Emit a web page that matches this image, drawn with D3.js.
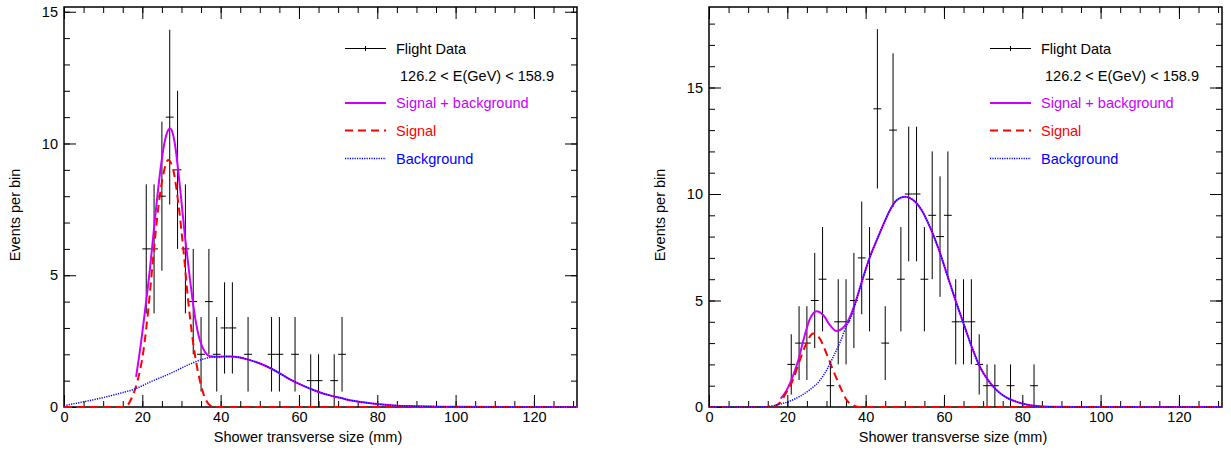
<!DOCTYPE html>
<html lang="en">
<head>
  <meta charset="UTF-8">
  <title>Shower transverse size</title>
  <style>
    body { margin: 0; background: #ffffff; }
    svg { display: block; }
    text { font-family: "Liberation Sans", Arial, Helvetica, sans-serif; font-size: 14.5px; fill: #000; }
  </style>
</head>
<body>
  <svg id="chart" width="1231" height="451"></svg>
  <script src="https://d3js.org/d3.v7.min.js"></script>
  <script>

    // ---- left plot: bin centres (mm) and entries per bin
    var leftBins   = [21, 23, 25, 27, 29, 31, 33, 35, 37, 39, 41, 43, 47, 53, 55, 59, 63, 65, 69, 71];
    var leftCounts = [ 6,  6,  8, 11,  9,  6,  4,  2,  4,  2,  3,  3,  2,  2,  2,  2,  1,  1,  1,  2];

    // fit curves, [mm, events]
    var leftSum = [[18.4,1.14],[19.4,2.15],[20.7,3.67],[22.0,5.32],[23.2,7.09],[24.5,8.86],[25.8,10.13],
      [26.4,10.45],[27.07,10.57],[27.7,10.42],[28.3,10.0],[29.6,8.36],[30.9,6.46],[32.2,4.81],[33.45,3.42],
      [34.7,2.53],[36.0,2.09],[37.3,1.93],[39.8,1.91],[42.4,1.92],[44.9,1.88],[47.5,1.78],[50.05,1.65],
      [52.6,1.48],[55.2,1.27],[57.7,1.05],[60.3,0.86],[62.8,0.70],[65.4,0.55],[67.9,0.44],[70.5,0.35],
      [73.0,0.26],[76.4,0.18],[80.7,0.10],[85.0,0.05],[90.0,0.03],[100,0.005],[131,0]];
    var leftSignal = [[0,0],[15.6,0],[16.5,0.12],[17.3,0.35],[18.6,0.89],[20.3,2.15],[21.5,3.67],[22.8,5.7],
      [24.1,7.6],[25.4,8.86],[26.6,9.37],[27.9,8.99],[29.2,7.73],[30.5,5.95],[31.7,4.05],[33.0,2.41],
      [34.3,1.27],[35.6,0.51],[37.3,0.06],[38.6,0],[131,0]];
    var leftBkg = [[0,0.05],[4.1,0.17],[9.2,0.33],[14.3,0.52],[18.4,0.7],[22.0,0.95],[27.1,1.27],[32.2,1.63],
      [34.7,1.78],[37.3,1.88],[39.8,1.91],[42.4,1.92],[44.9,1.88],[47.5,1.78],[50.05,1.65],[52.6,1.48],
      [55.2,1.27],[57.7,1.05],[60.3,0.86],[62.8,0.70],[65.4,0.55],[67.9,0.44],[70.5,0.35],[73.0,0.26],
      [76.4,0.18],[80.7,0.10],[85.0,0.05],[90.0,0.03],[100,0.005],[131,0]];

    // ---- right plot
    var rightBins   = [21, 23, 25, 27, 29, 31, 33, 35, 37, 39, 41, 43, 45, 47, 49, 51, 53, 55, 57, 59, 61, 63, 65, 67, 69, 71, 73, 77, 83];
    var rightCounts = [ 2,  3,  3,  5,  6,  1,  4,  4,  5,  7,  6, 14,  3, 13,  6, 10, 10,  6,  9,  8,  9,  4,  4,  4,  2,  1,  1,  1,  1];

    var rightSum = [[18.3,0.39],[19.8,0.78],[21.5,1.49],[22.8,2.19],[24.1,3.13],[25.8,4.15],[27.5,4.5],
      [29.2,4.31],[30.9,3.84],[32.6,3.57],[34.3,3.73],[36.0,4.23],[37.7,5.09],[39.4,6.11],[41.1,7.05],
      [43.0,7.9],[44.6,8.6],[46.2,9.24],[47.9,9.71],[50.0,9.87],[52.2,9.71],[54.3,9.24],[56.4,8.46],
      [58.6,7.44],[60.7,6.27],[62.8,5.09],[65.0,3.92],[67.1,2.82],[69.2,1.88],[71.3,1.25],[73.5,0.78],
      [76.0,0.44],[78.6,0.24],[82.0,0.08],[87.0,0.01],[95,0],[131,0]];
    var rightSignal = [[0,0],[15.0,0],[16.4,0.03],[18.1,0.2],[19.8,0.7],[21.5,1.3],[23.2,2.2],[24.9,3.0],
      [26.6,3.45],[28.3,3.21],[30.0,2.51],[31.7,1.72],[33.5,0.94],[35.2,0.31],[36.9,0.08],[38.6,0],[131,0]];
    var rightBkg = [[0,0],[13.0,0],[18.1,0.13],[20.7,0.28],[23.2,0.50],[25.8,0.82],[28.3,1.25],[30.0,1.72],
      [31.7,2.35],[33.5,3.05],[35.2,3.84],[36.0,4.1],[37.7,5.05],[39.4,6.1],[41.1,7.05],[43.0,7.9],
      [44.6,8.6],[46.2,9.24],[47.9,9.71],[50.0,9.87],[52.2,9.71],[54.3,9.24],[56.4,8.46],[58.6,7.44],
      [60.7,6.27],[62.8,5.09],[65.0,3.92],[67.1,2.82],[69.2,1.88],[71.3,1.25],[73.5,0.78],[76.0,0.44],
      [78.6,0.24],[82.0,0.08],[87.0,0.01],[95,0],[131,0]];

    // ---- axes / legend text
    var xTicks = [0, 20, 40, 60, 80, 100, 120];
    var yTicks = [0, 5, 10, 15];
    var legendLabels = ["Flight Data", "126.2 < E(GeV) < 158.9", "Signal + background", "Signal", "Background"];
    var xTitle = "Shower transverse size (mm)";
    var yTitle = "Events per bin";

    var svg = d3.select("#chart");
    svg.append("rect").attr("width", 1231).attr("height", 451).attr("fill", "#fff");

    var violet = "#cc00ff";

    function panel(left, yMax, bins, counts, sum, signal, bkg) {
      var top = 7, w = 513, h = 400;
      var g = svg.append("g").attr("transform", "translate(" + left + "," + top + ")");

      var x = d3.scaleLinear().domain([0, 131]).range([0, w]);
      var y = d3.scaleLinear().domain([0, yMax]).range([h, 0]);

      // ticks: minor every 5 mm / 1 event, major on labels
      var xMinor = d3.range(0, 131, 5), yMinor = d3.range(0, yMax, 1);

      g.append("g").attr("transform", "translate(0," + h + ")")
        .call(d3.axisBottom(x).tickValues(xMinor).tickSizeInner(-6).tickSizeOuter(0).tickFormat(""));
      g.append("g").attr("transform", "translate(0," + h + ")").attr("class", "lab")
        .call(d3.axisBottom(x).tickValues(xTicks).tickSizeInner(-12).tickSizeOuter(0).tickPadding(5));
      g.append("g")
        .call(d3.axisTop(x).tickValues(xMinor).tickSizeInner(-6).tickSizeOuter(0).tickFormat(""));
      g.append("g")
        .call(d3.axisTop(x).tickValues(xTicks).tickSizeInner(-12).tickSizeOuter(0).tickFormat(""));

      g.append("g")
        .call(d3.axisLeft(y).tickValues(yMinor).tickSizeInner(-6).tickSizeOuter(0).tickFormat(""));
      g.append("g").attr("class", "lab")
        .call(d3.axisLeft(y).tickValues(yTicks).tickSizeInner(-12).tickSizeOuter(0).tickPadding(6));
      g.append("g").attr("transform", "translate(" + w + ",0)")
        .call(d3.axisRight(y).tickValues(yMinor).tickSizeInner(-6).tickSizeOuter(0).tickFormat(""));
      g.append("g").attr("transform", "translate(" + w + ",0)")
        .call(d3.axisRight(y).tickValues(yTicks).tickSizeInner(-12).tickSizeOuter(0).tickFormat(""));

      g.selectAll(".domain").remove();
      g.selectAll(".tick line").attr("stroke", "#000").attr("stroke-width", 1);
      g.selectAll(".lab text").attr("font-size", 14.5).attr("font-family", null).attr("fill", "#000");

      g.append("rect").attr("width", w).attr("height", h)
        .attr("fill", "none").attr("stroke", "#000").attr("stroke-width", 1.5);

      // data points with poisson error bars
      var pts = g.append("g").attr("stroke", "#000").attr("stroke-width", 1);
      bins.forEach(function(b, i) {
        var c = counts[i], e = Math.sqrt(c);
        pts.append("line").attr("x1", x(b - 1)).attr("x2", x(b + 1)).attr("y1", y(c)).attr("y2", y(c));
        pts.append("line").attr("x1", x(b)).attr("x2", x(b)).attr("y1", y(c - e)).attr("y2", y(c + e));
      });

      var line = d3.line().x(function(d) { return x(d[0]); }).y(function(d) { return y(d[1]); })
        .curve(d3.curveMonotoneX);

      g.append("path").attr("d", line(sum)).attr("fill", "none")
        .attr("stroke", violet).attr("stroke-width", 2);
      g.append("path").attr("d", line(signal)).attr("fill", "none")
        .attr("stroke", "#ff0000").attr("stroke-width", 2).attr("stroke-dasharray", "8,5");
      g.append("path").attr("d", line(bkg)).attr("fill", "none")
        .attr("stroke", "#0000ff").attr("stroke-width", 1.5).attr("stroke-dasharray", "1.2,1.2");

      // legend
      var lx0 = 281, lx1 = 322, tx = 332;
      var ly = [41.5, 68.5, 96, 123.5, 151.5];
      var leg = g.append("g");
      leg.append("line").attr("x1", lx0).attr("x2", lx1).attr("y1", ly[0]).attr("y2", ly[0])
        .attr("stroke", "#000");
      leg.append("line").attr("x1", (lx0 + lx1) / 2).attr("x2", (lx0 + lx1) / 2)
        .attr("y1", ly[0] - 2.5).attr("y2", ly[0] + 2.5).attr("stroke", "#000");
      leg.append("line").attr("x1", lx0).attr("x2", lx1).attr("y1", ly[2]).attr("y2", ly[2])
        .attr("stroke", violet).attr("stroke-width", 2);
      leg.append("line").attr("x1", lx0).attr("x2", lx1).attr("y1", ly[3]).attr("y2", ly[3])
        .attr("stroke", "#ff0000").attr("stroke-width", 2).attr("stroke-dasharray", "8,5");
      leg.append("line").attr("x1", lx0).attr("x2", lx1).attr("y1", ly[4]).attr("y2", ly[4])
        .attr("stroke", "#0000ff").attr("stroke-width", 1.5).attr("stroke-dasharray", "1.2,1.2");

      var colours = ["#000", "#000", violet, "#ff0000", "#0000ff"];
      legendLabels.forEach(function(t, i) {
        leg.append("text").attr("x", i == 1 ? tx + 4 : tx).attr("y", ly[i]).attr("dy", "0.35em")
          .style("fill", colours[i]).text(t);
      });

      // titles
      g.append("text").attr("x", 244).attr("y", h + 35).attr("text-anchor", "middle").text(xTitle);
      g.append("text").attr("transform", "translate(" + (15 - 64) + "," + 208 + ") rotate(-90)")
        .attr("dy", "0.35em").attr("text-anchor", "middle").text(yTitle);
    }

    panel(64, 15.18, leftBins, leftCounts, leftSum, leftSignal, leftBkg);
    panel(709, 18.78, rightBins, rightCounts, rightSum, rightSignal, rightBkg);

  </script>
</body>
</html>
